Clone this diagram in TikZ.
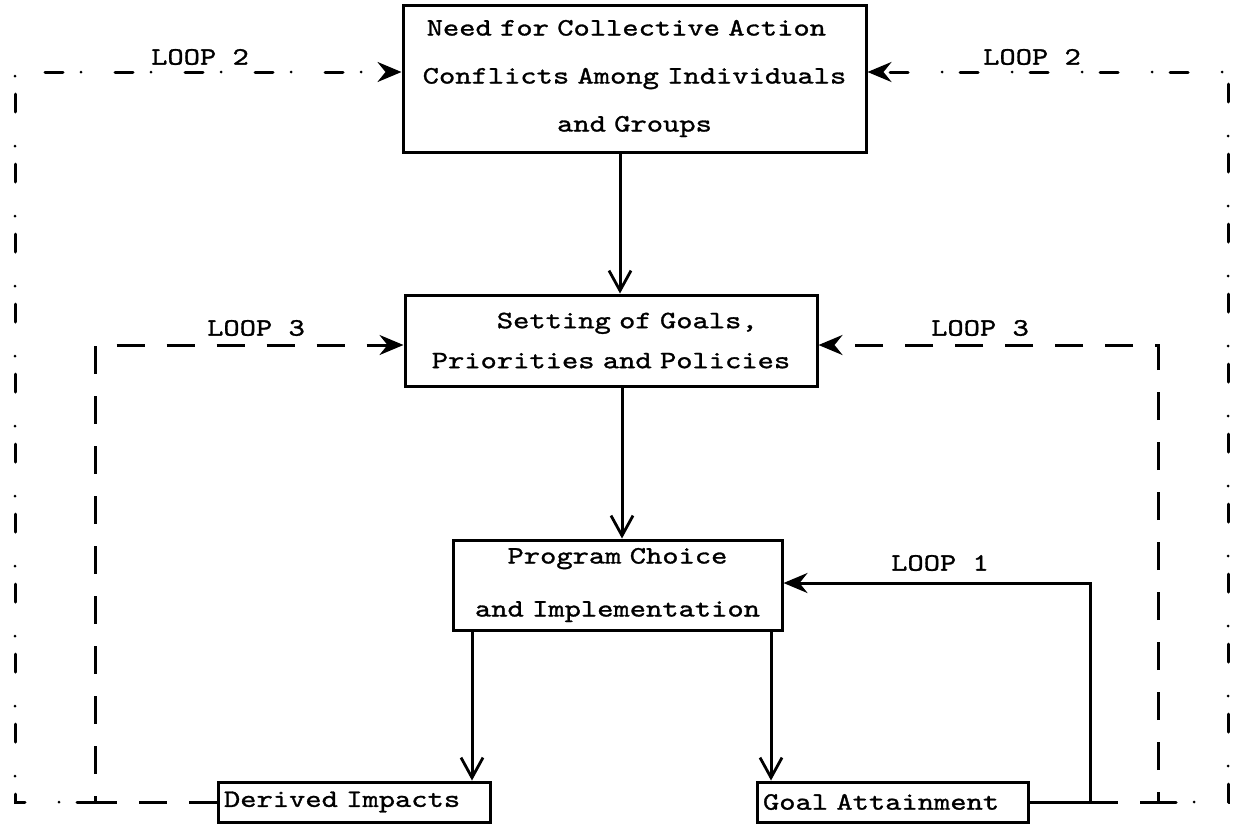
\documentclass[tikz,border=0pt]{standalone}
\usepackage{fontspec}
\newfontfamily\tw{lmmono10-regular.otf}[FakeStretch=1.24,FakeBold=1.2]
\newcommand\twf[2]{\fontsize{#1}{#2}\tw\spaceskip=8.14pt plus 0pt minus 0pt\relax}
\usetikzlibrary{arrows.meta}
\begin{document}
\begin{tikzpicture}[x=0.5pt,y=-0.5pt,
  box/.style={draw,line width=1.5pt,inner sep=0pt,align=center},
  ln/.style={line width=1.5pt},
  vtip/.style={-{Straight Barb[length=10pt,width=11pt,line width=1.4pt]}},
  htip/.style={-{Stealth[length=12pt,width=10pt,inset=4pt]}},
  lthree/.style={ln,dash pattern=on 14pt off 11pt},
  ltwo/.style={ln,line cap=round,dash pattern=on 9pt off 9pt on 0pt off 17pt},
  lbl/.style={font=\twf{12.5pt}{15pt},inner sep=0pt}]
\useasboundingbox (0,0) rectangle (1235,825);

\node[box,minimum width=231.5pt,minimum height=73.5pt,text width=231.5pt,
  font=\twf{12.5pt}{24pt}] (top) at (634.5,78.5)
  {Need for Collective Action\phantom{x}\\Conflicts Among Individuals\\and Groups};
\node[box,minimum height=45.5pt,text width=206pt,
  font=\twf{12.5pt}{20pt}] (set) at (611,340.5)
  {\phantom{xx}Setting of Goals,\\Priorities and Policies};
\node[box,minimum height=45pt,text width=164.5pt,
  font=\twf{12.5pt}{26.5pt}] (prog) at (617.5,585)
  {Program Choice\\and Implementation};
\node[box,align=left,inner xsep=3pt,minimum height=20pt,text width=130pt,
  font=\twf{12.5pt}{15pt}] (der) at (354,802) {Derived Impacts};
\node[box,align=left,inner xsep=3pt,minimum height=20pt,text width=129.5pt,
  font=\twf{12.5pt}{15pt}] (goal) at (892.5,802) {Goal Attainment};

% main vertical arrows
\coordinate (xA) at (620,0);
\coordinate (xB) at (622,0);
\coordinate (xC) at (472,0);
\coordinate (xD) at (771,0);
\draw[ln,vtip] (top.south -| xA) -- (set.north -| xA);
\draw[ln,vtip] (set.south -| xB) -- (prog.north -| xB);
\draw[ln,vtip] (prog.south -| xC) -- (der.north -| xC);
\draw[ln,vtip] (prog.south -| xD) -- (goal.north -| xD);

% corner coordinates
\coordinate (J1) at (1090,802);
\coordinate (J1t) at (1090,583);
\coordinate (R3b) at (1158,802);
\coordinate (R3t) at (1158,345);
\coordinate (L3b) at (95,802);
\coordinate (L3t) at (95,345);
\coordinate (L2b) at (15,802);
\coordinate (L2t) at (15,72);
\coordinate (R2b) at (1228,802);
\coordinate (R2t) at (1228,72);

% loop 1
\draw[ln,htip] (goal.east) -- (J1) -- (J1t) -- (J1t -| prog.east);
% loop 3
\draw[lthree,htip] (J1) -- (R3b) -- (R3t) -- (R3t -| set.east);
\draw[lthree,htip] (der.west) -- (L3b) -- (L3t) -- (L3t -| set.west);
% loop 2
\draw[ltwo,htip] (L3b) -- (L2b) -- (L2t) -- (L2t -| top.west);
\draw[ltwo,htip] (R3b) -- (R2b) -- (R2t) -- (R2t -| top.east);

% labels
\node[lbl] (lp2a) at (200,57) {LOOP 2};
\node[lbl] (lp2b) at (1032,57) {LOOP 2};
\node[lbl] (lp3a) at (256,328) {LOOP 3};
\node[lbl] (lp3b) at (980,328) {LOOP 3};
\node[lbl] (lp1) at (940,563) {LOOP 1};
\end{tikzpicture}
\end{document}
